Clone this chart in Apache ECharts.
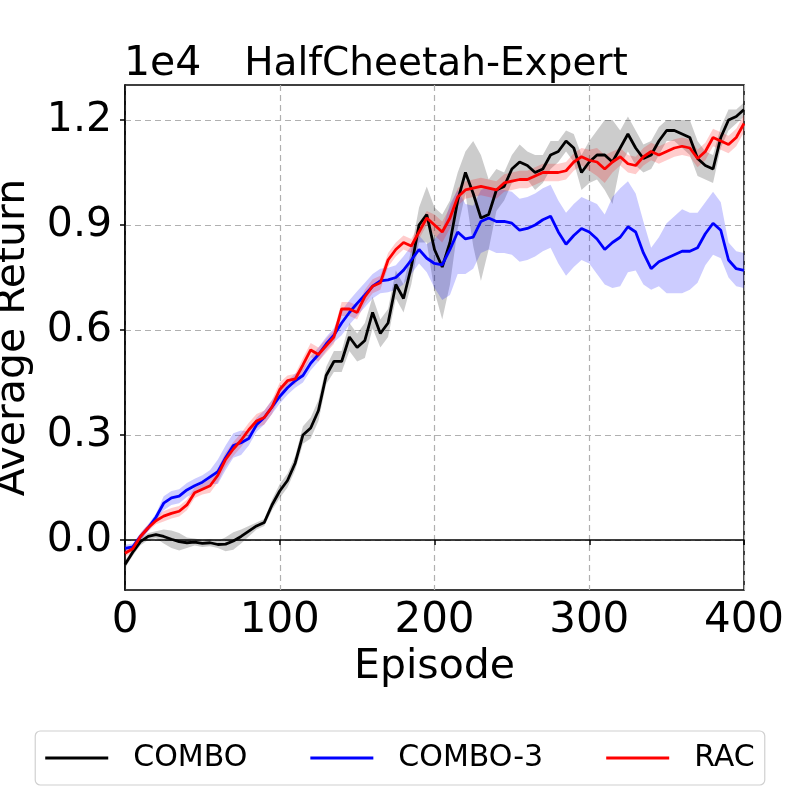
<!DOCTYPE html>
<html>
<head>
<meta charset="utf-8">
<script src="https://cdn.jsdelivr.net/npm/echarts@6/dist/echarts.min.js"></script>
<style>
html, body { margin: 0; padding: 0; background: #fff; }
#main { width: 800px; height: 800px; }
</style>
</head>
<body>
<div id="main"></div>
<script>
// episodes sampled every 5
var episodes = [0, 5, 10, 15, 20, 25, 30, 35, 40, 45, 50, 55, 60, 65, 70, 75, 80, 85, 90, 95,
  100, 105, 110, 115, 120, 125, 130, 135, 140, 145, 150, 155, 160, 165, 170, 175, 180, 185, 190, 195,
  200, 205, 210, 215, 220, 225, 230, 235, 240, 245, 250, 255, 260, 265, 270, 275, 280, 285, 290, 295,
  300, 305, 310, 315, 320, 325, 330, 335, 340, 345, 350, 355, 360, 365, 370, 375, 380, 385, 390, 395, 400];

var combo = [-700, -350, -50, 100, 150, 100, 20, -50, -80, -60, -100, -80, -130, -120, -30, 100, 250, 400, 500, 1000,
  1400, 1700, 2200, 3000, 3200, 3700, 4700, 5100, 5100, 5800, 5500, 5700, 6500, 5900, 6200, 7300, 6900, 7800, 9000, 9300,
  8300, 7800, 8500, 9700, 10500, 9900, 9200, 9300, 10000, 10100, 10600, 10800, 10700, 10500, 10600, 11000, 11100, 11400, 11200, 10500,
  10800, 11000, 11000, 10800, 11200, 11600, 11200, 10900, 11000, 11400, 11700, 11700, 11600, 11500, 10900, 10700, 10600, 11500, 12000, 12100, 12300];
var comboSpread = [100, 100, 100, 100, 100, 200, 250, 250, 150, 100, 100, 100, 100, 200, 250, 200, 150, 100, 100, 150,
  200, 200, 200, 250, 300, 300, 250, 300, 300, 400, 400, 500, 450, 400, 400, 400, 400, 500, 500, 800,
  1200, 1500, 1200, 800, 600, 1500, 1800, 1000, 600, 400, 400, 500, 400, 500, 400, 400, 300, 300, 400, 500,
  600, 700, 1000, 1200, 500, 500, 500, 400, 400, 400, 300, 300, 400, 500, 500, 400, 400, 300, 300, 200, 200];

var combo3 = [-240, -200, 100, 350, 650, 1050, 1200, 1250, 1430, 1550, 1650, 1800, 1950, 2350, 2700, 2780, 2900, 3290, 3500, 3800,
  4100, 4350, 4550, 4700, 5050, 5300, 5600, 5850, 6200, 6500, 6760, 7000, 7250, 7400, 7430, 7500, 7710, 8000, 8300, 8050,
  7900, 7860, 8300, 8800, 8600, 8650, 9100, 9200, 9100, 9100, 9050, 8850, 8900, 9000, 9150, 9250, 8800, 8450, 8700, 8900,
  8800, 8600, 8300, 8500, 8650, 8950, 8800, 8200, 7750, 7950, 8050, 8150, 8250, 8250, 8350, 8750, 9050, 8850, 8000, 7750, 7700];
var combo3Spread = [100, 100, 100, 100, 100, 200, 200, 200, 200, 200, 200, 200, 350, 350, 350, 350, 200, 200, 200, 200,
  200, 200, 200, 200, 200, 200, 200, 200, 350, 350, 350, 350, 350, 350, 350, 350, 400, 400, 400, 400,
  700, 1000, 1300, 1200, 1000, 900, 900, 900, 900, 900, 900, 900, 900, 900, 900, 900, 900, 900, 900, 900,
  900, 1000, 1000, 1300, 1400, 1300, 1100, 900, 600, 700, 1000, 1100, 1200, 1100, 1000, 900, 900, 800, 500, 500, 500];

var rac = [-380, -250, 100, 350, 550, 680, 760, 820, 1000, 1350, 1450, 1550, 1850, 2300, 2600, 2850, 3150, 3400, 3500, 3800,
  4300, 4550, 4600, 5000, 5430, 5300, 5550, 5800, 6600, 6600, 6500, 6950, 7250, 7350, 8000, 8300, 8500, 8400, 8800, 9200,
  9000, 8800, 9200, 9800, 10000, 10050, 10100, 10050, 10000, 10200, 10250, 10300, 10300, 10400, 10500, 10500, 10500, 10550, 10800, 10950,
  10850, 10800, 10600, 10800, 10950, 10750, 10700, 10950, 11100, 11000, 11100, 11200, 11250, 11200, 10900, 11100, 11500, 11400, 11300, 11500, 11900];
var racSpread = [100, 100, 100, 100, 100, 150, 150, 150, 150, 150, 150, 200, 200, 200, 200, 200, 200, 200, 200, 200,
  200, 150, 150, 200, 200, 200, 200, 200, 200, 200, 200, 200, 200, 200, 200, 200, 200, 200, 200, 200,
  300, 300, 300, 250, 250, 250, 250, 250, 250, 250, 250, 250, 250, 250, 250, 250, 250, 250, 250, 250,
  300, 400, 400, 300, 250, 250, 250, 250, 250, 250, 250, 250, 250, 250, 250, 250, 250, 250, 250, 250, 250];

var yTicks = [0, 3000, 6000, 9000, 12000];

var FONT = 'DejaVu Sans';

function pairs(ys) {
  return episodes.map(function (x, i) { return [x, ys[i]]; });
}

// shaded band: one polygon, upper edge then lower edge back
function band(ys, sp, color) {
  return {
    type: 'custom', silent: true, clip: true,
    data: pairs(ys),
    encode: { x: 0, y: 1 },
    renderItem: function (params, api) {
      if (params.dataIndex !== 0) return;
      var pts = [];
      for (var i = 0; i < episodes.length; i++) {
        pts.push(api.coord([episodes[i], ys[i] + sp[i]]));
      }
      for (var j = episodes.length - 1; j >= 0; j--) {
        pts.push(api.coord([episodes[j], ys[j] - sp[j]]));
      }
      return { type: 'polygon', shape: { points: pts }, style: { fill: color } };
    }
  };
}

function curve(name, ys, color) {
  return {
    name: name, type: 'line', showSymbol: false, silent: true,
    itemStyle: { color: color },
    lineStyle: { color: color, width: 2.8 },
    data: pairs(ys)
  };
}

var myChart = echarts.init(document.getElementById('main'));

var option = {
  animation: false,
  backgroundColor: '#fff',
  title: {
    text: 'HalfCheetah-Expert',
    left: 431, top: 40, textAlign: 'center',
    textStyle: { fontFamily: FONT, fontSize: 39, fontWeight: 'normal', color: '#000' }
  },
  graphic: [{
    type: 'text', left: 124, top: 44,
    style: { text: '1e4', font: '41px "DejaVu Sans"', fill: '#000' }
  }],
  legend: {
    data: ['COMBO', 'COMBO-3', 'RAC'],
    left: 'center', top: 731,
    icon: 'rect', itemWidth: 63, itemHeight: 3, itemGap: 63,
    padding: [12, 10],
    borderColor: '#d0d0d0', borderWidth: 1.2, borderRadius: 5,
    textStyle: { fontFamily: FONT, fontSize: 30, color: '#000', padding: [0, 0, 0, 20] }
  },
  grid: {
    left: 125, right: 56, top: 85, bottom: 210,
    outerBoundsMode: 'none',
    show: true, borderColor: '#000', borderWidth: 1.5
  },
  xAxis: {
    type: 'value', min: 0, max: 400, interval: 100,
    name: 'Episode', nameLocation: 'middle', nameGap: 52,
    nameTextStyle: { fontFamily: FONT, fontSize: 41, color: '#000' },
    axisLine: { show: true, lineStyle: { color: '#000', width: 1.5 } },
    axisTick: { show: true, length: 5, lineStyle: { color: '#000', width: 1.5 } },
    axisLabel: { fontFamily: FONT, fontSize: 42, color: '#000', margin: 10 },
    splitLine: { show: true, lineStyle: { color: '#b0b0b0', width: 1.2, type: [6, 4] } }
  },
  yAxis: {
    type: 'value', min: -1430, max: 13000,
    name: 'Average Return', nameLocation: 'middle', nameGap: 91,
    nameTextStyle: { fontFamily: FONT, fontSize: 41, color: '#000' },
    axisLine: { show: true, lineStyle: { color: '#000', width: 1.5 } },
    axisTick: { show: true, length: 5, customValues: yTicks, lineStyle: { color: '#000', width: 1.5 } },
    axisLabel: {
      fontFamily: FONT, fontSize: 41, color: '#000', margin: 13, customValues: yTicks,
      formatter: function (v) { return (v / 10000).toFixed(1); }
    },
    splitLine: { show: true, lineStyle: { color: '#b0b0b0', width: 1.2, type: [6, 4] } }
  },
  series: [
    band(combo, comboSpread, 'rgba(0,0,0,0.2)'),
    band(combo3, combo3Spread, 'rgba(0,0,255,0.2)'),
    band(rac, racSpread, 'rgba(255,0,0,0.2)'),
    curve('COMBO', combo, '#000000'),
    curve('COMBO-3', combo3, '#0000ff'),
    curve('RAC', rac, '#ff0000')
  ]
};

myChart.setOption(option);
</script>
</body>
</html>
